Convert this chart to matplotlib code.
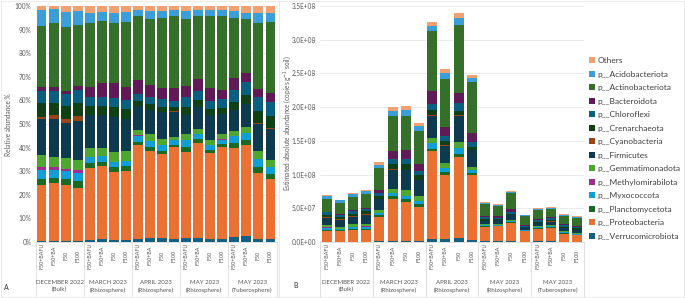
import numpy as np
import matplotlib.pyplot as plt
from matplotlib.patches import Patch
from matplotlib.lines import Line2D
from matplotlib.ticker import FuncFormatter

plt.rcParams['font.family'] = ['Lato', 'DejaVu Sans']

groups = ["DECEMBER 2022\n(Bulk)", "MARCH 2023\n(Rhizosphere)", "APRIL 2023\n(Rhizosphere)",
          "MAY 2023\n(Rhizosphere)", "MAY 2023\n(Tuberosphere)"]
treatments = ["F50+BAFU", "F50+BA", "F50", "F100"]

# relative abundance (%), bottom of stack first, 20 bars (5 groups x 4 treatments)
verrucomicrobiota = [0.4, 0.6, 0.4, 0.6, 0.7, 1.1, 0.7, 1.0, 1.3, 1.7, 1.6, 1.3, 1.8, 1.7, 1.3, 1.1, 2.1, 2.4, 1.4, 1.1]
proteobacteria = [23.9, 24.5, 23.9, 22.5, 30.8, 31.0, 29.0, 29.0, 40.0, 36.9, 35.6, 39.0, 36.4, 40.3, 36.5, 39.2, 37.9, 38.6, 27.9, 25.7]
planctomycetota = [2.5, 2.1, 2.3, 2.7, 2.0, 1.8, 2.1, 2.3, 1.1, 1.7, 1.3, 1.0, 2.1, 1.6, 1.1, 1.1, 2.0, 2.4, 2.5, 2.1]
myxococcota = [3.7, 3.3, 3.4, 3.7, 2.5, 2.4, 2.1, 2.1, 2.8, 2.5, 2.5, 1.8, 2.8, 2.1, 2.1, 2.0, 2.8, 2.8, 3.5, 2.8]
methylomirabilota = [1.3, 1.1, 1.1, 1.0, 0.2, 0.1, 0.2, 0.2, 0.1, 0.1, 0.1, 0.1, 0.1, 0.1, 0.1, 0.1, 0.1, 0.1, 0.1, 0.1]
gemmatimonadota = [5.0, 4.5, 4.7, 4.5, 3.5, 3.3, 4.2, 4.1, 2.1, 2.7, 2.5, 1.4, 2.4, 2.1, 2.1, 2.1, 2.1, 2.5, 3.3, 2.8]
firmicutes = [15.3, 16.0, 14.9, 16.3, 14.1, 14.1, 14.9, 13.6, 10.2, 10.3, 11.6, 10.6, 8.2, 9.5, 10.6, 8.6, 8.9, 9.6, 11.6, 13.4]
cyanobacteria = [1.0, 1.7, 1.4, 2.1, 0.2, 0.1, 0.1, 0.1, 0.1, 0.1, 0.1, 0.1, 0.1, 0.1, 0.1, 0.1, 0.1, 0.1, 0.1, 0.1]
crenarchaeota = [5.8, 5.2, 5.7, 5.7, 3.8, 3.8, 4.0, 4.2, 2.3, 2.5, 2.1, 1.8, 3.3, 2.8, 2.4, 2.4, 3.5, 3.8, 5.2, 5.2]
chloroflexi = [5.1, 5.1, 5.1, 5.4, 3.7, 3.7, 4.1, 3.8, 2.7, 2.8, 3.1, 2.8, 4.5, 4.0, 3.7, 3.8, 5.0, 5.7, 5.8, 6.1]
bacteroidota = [1.6, 1.7, 1.3, 1.7, 4.5, 5.9, 6.1, 5.4, 6.1, 5.2, 4.7, 5.2, 4.5, 5.0, 5.2, 4.0, 5.0, 3.8, 3.4, 3.5]
actinobacteriota = [26.0, 27.2, 27.2, 25.9, 26.9, 26.3, 25.5, 27.9, 27.2, 28.0, 29.7, 30.7, 28.4, 26.9, 30.8, 31.5, 25.7, 22.6, 28.3, 30.4]
acidobacteriota = [6.8, 5.7, 6.4, 6.1, 4.2, 4.0, 4.2, 4.1, 2.5, 3.4, 3.1, 2.5, 3.4, 2.4, 2.4, 2.4, 2.8, 2.8, 4.0, 3.8]
others = [1.7, 1.4, 2.4, 2.0, 3.1, 2.5, 3.1, 2.5, 1.7, 2.1, 2.1, 1.7, 2.1, 1.7, 1.7, 1.7, 2.1, 2.8, 3.1, 2.8]

# estimated total abundance (copies per g soil) for each bar
totals = [0.69e8, 0.63e8, 0.73e8, 0.77e8, 1.18e8, 2.00e8, 2.02e8, 1.76e8, 3.26e8, 2.56e8,
          3.40e8, 2.48e8, 0.59e8, 0.56e8, 0.75e8, 0.40e8, 0.50e8, 0.52e8, 0.41e8, 0.38e8]

names = ["p__Verrucomicrobiota", "p__Proteobacteria", "p__Planctomycetota", "p__Myxococcota",
         "p__Methylomirabilota", "p__Gemmatimonadota", "p__Firmicutes", "p__Cyanobacteria",
         "p__Crenarchaeota", "p__Chloroflexi", "p__Bacteroidota", "p__Actinobacteriota",
         "p__Acidobacteriota", "Others"]
series = [verrucomicrobiota, proteobacteria, planctomycetota, myxococcota, methylomirabilota,
          gemmatimonadota, firmicutes, cyanobacteria, crenarchaeota, chloroflexi, bacteroidota,
          actinobacteriota, acidobacteriota, others]
colors = ["#156082", "#E97132", "#196B24", "#0F9ED5", "#A02B93", "#4EA72E", "#0D3A4F",
          "#9A4519", "#0F4016", "#095F80", "#601A58", "#35702A", "#3A9FD8", "#F2A072"]

rel = np.array(series, dtype=float)
rel = rel / rel.sum(axis=0) * 100
absol = rel / 100 * np.array(totals)

W, H = 685, 298
fig = plt.figure(figsize=(W / 100, H / 100), dpi=100)
txt = "#595959"

def add_axes(x0, x1, y0=242, y1=6):
    return fig.add_axes([x0 / W, 1 - y0 / H, (x1 - x0) / W, (y0 - y1) / H])

axA = add_axes(35.5, 276.5)
axB = add_axes(320, 584)

x = np.arange(20)

def draw(ax, data, width):
    bottom = np.zeros(20)
    for vals, c in zip(data, colors):
        ax.bar(x, vals, width, bottom=bottom, color=c, linewidth=0, zorder=2)
        bottom += vals
    ax.set_xlim(-0.5, 19.5)
    for s in ['top', 'right', 'left']:
        ax.spines[s].set_visible(False)
    ax.spines['bottom'].set_color('#d9d9d9')
    ax.spines['bottom'].set_linewidth(0.6)
    ax.set_xticks([])
    ax.tick_params(axis='y', length=0, labelsize=4.7, labelcolor=txt, pad=3)
    ax.grid(axis='y', color='#e3e3e3', linewidth=0.5, zorder=0)
    ax.set_axisbelow(True)
    tr = ax.get_xaxis_transform()
    depth = -(297 - 242) / 236
    for i in range(20):
        ax.text(i, -0.058, treatments[i % 4], rotation=90, ha='center', va='center',
                fontsize=3.9, color=txt, transform=tr)
    for g in range(5):
        ax.text(g * 4 + 1.5, -0.188, groups[g], ha='center', va='center', fontsize=4.4,
                color=txt, transform=tr, linespacing=1.45)
    for b in range(6):
        ax.add_line(Line2D([b * 4 - 0.5] * 2, [0, depth], transform=tr, color='#d9d9d9',
                           linewidth=0.6, clip_on=False))

draw(axA, rel, 0.82)
axA.set_ylim(0, 100)
axA.set_yticks(np.arange(0, 101, 10))
axA.yaxis.set_major_formatter(FuncFormatter(lambda v, p: f"{v:.0f}%"))

draw(axB, absol, 0.76)
axB.set_ylim(0, 3.5e8)
axB.set_yticks(np.arange(0, 3.51e8, 0.5e8))
axB.yaxis.set_major_formatter(FuncFormatter(lambda v, p: f"{v:.1E}"))

fig.text(9 / W, 1 - 125 / H, "Relative abundance %", rotation=90, ha='center', va='center',
         fontsize=4.7, color=txt)
fig.text(287 / W, 1 - 123 / H, "Estimated absolute abundance (copies g$^{-1}$ soil)", rotation=90,
         ha='center', va='center', fontsize=4.7, color=txt)
fig.text(6 / W, 1 - 287 / H, "A", fontsize=5, color='#333333', ha='center', va='center')
fig.text(296 / W, 1 - 285 / H, "B", fontsize=5, color='#333333', ha='center', va='center')

# chart borders
for xs, ys in [([279, 279], [1, 297]), ([1, 684], [297, 297]), ([1, 684], [1, 1]),
               ([1, 1], [1, 297]), ([684, 684], [1, 297])]:
    fig.add_artist(Line2D([v / W for v in xs], [1 - v / H for v in ys], color='#e6e6e6', linewidth=0.6))

handles = [Patch(facecolor=c, edgecolor='none') for c in colors][::-1]
leg = fig.legend(handles, names[::-1], loc='center left', bbox_to_anchor=(589 / W, 1 - 148.5 / H),
                 frameon=False, fontsize=6.0, handlelength=0.7, handleheight=0.7,
                 handletextpad=0.35, labelspacing=0.78, borderaxespad=0, borderpad=0)
for t in leg.get_texts():
    t.set_color('#404040')

fig.savefig("out.png", dpi=100)
